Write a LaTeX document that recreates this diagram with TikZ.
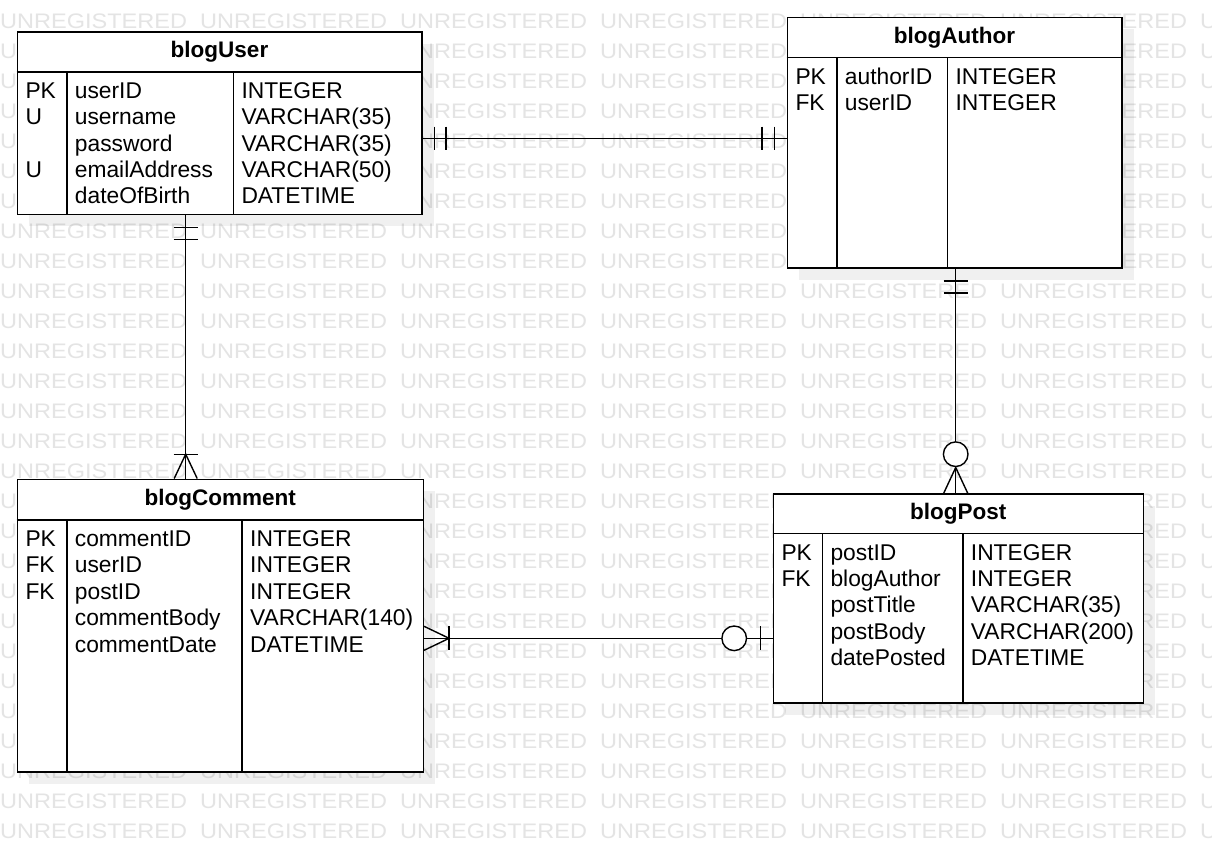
\documentclass[tikz,border=0pt]{standalone}
\usepackage{fontspec}
\setmainfont{Liberation Sans}
\newfontfamily\wmfont[FakeStretch=1.12]{Liberation Sans}
\usetikzlibrary{calc}

\definecolor{wmgray}{RGB}{228,228,228}

\tikzset{
  wm/.style={anchor=base west, inner sep=0pt, text=wmgray,
    font=\wmfont\fontsize{21}{25}\selectfont},
  entity/.style={draw=black, line width=1.6pt, fill=white, inner sep=0pt},
  boxshade/.style={fill=black, fill opacity=0.06, draw=none},
  rule/.style={line width=1.6pt},
  title/.style={anchor=base, inner sep=0pt,
    font=\bfseries\fontsize{22.5}{27}\selectfont},
  cell/.style={anchor=base west, inner sep=0pt,
    font=\fontsize{22.8}{27}\selectfont},
  rel/.style={line width=1.4pt},
  ring/.style={circle, draw=black, line width=1.4pt, fill=white,
    minimum size=24.6pt, inner sep=0pt},
}

% entity box: #1 name, #2 cx, #3 cy, #4 width, #5 height,
% #6 header rule y, #7 first column x, #8 second column x, #9 title
\newcommand\erentity[9]{%
  \fill[boxshade] ({#2-#4/2+12},{#3-#5/2+12}) rectangle ({#2+#4/2+12},{#3+#5/2+12});
  \node[entity, minimum width=#4pt, minimum height=#5pt] (#1) at (#2,#3) {};
  \draw[rule] (#1.west |- 0,#6) -- (#1.east |- 0,#6);
  \draw[rule] (#7,#6) -- (#7,#6 |- #1.south);
  \draw[rule] (#8,#6) -- (#8,#6 |- #1.south);
  \node[title] (#1-title) at ({#2},{#3-#5/2+25.8}) {#9};
}

% attribute rows: #1 name, #2 left x, #3 first column x, #4 second column x,
% #5 first baseline, #6 rows key/name/type
\newcommand\errows[6]{%
  \foreach \k/\n/\t [count=\i from 0] in {#6} {
    \node[cell] (#1-k\i) at ({#2+8},{#5+26.4*\i}) {\k};
    \node[cell] (#1-n\i) at ({#3+8},{#5+26.4*\i}) {\n};
    \node[cell] (#1-t\i) at ({#4+8},{#5+26.4*\i}) {\t};
  }
}

\begin{document}
\begin{tikzpicture}[x=1pt, y=-1pt]
  \useasboundingbox (0,0) rectangle (1212,841);
  \clip (0,0) rectangle (1212,841);
  \fill[white] (0,0) rectangle (1212,841);

  % tiled background text
  \foreach \r in {0,...,27} {
    \foreach \c in {0,...,6} {
      \node[wm] (wm-\r-\c) at ({200*\c},{28.3+30*\r}) {UNREGISTERED};
    }
  }

  % entities
  \erentity{user}{219.5}{123}{404.4}{182.6}{71.7}{66.7}{233.3}{blogUser}
  \errows{user}{17.3}{66.7}{233.3}{98.3}{PK/userID/INTEGER, U/username/VARCHAR(35), /password/VARCHAR(35), U/emailAddress/VARCHAR(50), /dateOfBirth/DATETIME}

  \erentity{author}{954.5}{142.5}{334.4}{250.4}{57.3}{836.7}{947.3}{blogAuthor}
  \errows{author}{787.3}{836.7}{947.3}{84}{PK/authorID/INTEGER, FK/userID/INTEGER}

  \erentity{comment}{220.3}{625.5}{406}{292.4}{520}{66.7}{242}{blogComment}
  \errows{comment}{17.3}{66.7}{242}{546.4}{PK/commentID/INTEGER, FK/userID/INTEGER, FK/postID/INTEGER, /commentBody/VARCHAR(140), /commentDate/DATETIME}

  \erentity{post}{958.3}{598.35}{370}{208.7}{533.3}{822.3}{962.7}{blogPost}
  \errows{post}{773.3}{822.3}{962.7}{560}{PK/postID/INTEGER, FK/blogAuthor/INTEGER, /postTitle/VARCHAR(35), /postBody/VARCHAR(200), /datePosted/DATETIME}

  % blogUser -- blogAuthor : one and only one on both ends
  \coordinate (ua1) at ([yshift=-15.3pt]user.east);
  \coordinate (ua2) at (author.west |- ua1);
  \draw[rel] (ua1) -- (ua2);
  \draw[rel] ($(ua1)+(11.8,-11.7)$) -- ++(0,23.4);
  \draw[rel] ($(ua1)+(23.6,-11.7)$) -- ++(0,23.4);
  \draw[rel] ($(ua2)+(-12.2,-11.7)$) -- ++(0,23.4);
  \draw[rel] ($(ua2)+(-24.4,-11.7)$) -- ++(0,23.4);

  % blogUser -- blogComment : one to one-or-many
  \coordinate (uc1) at ([xshift=-33.8pt]user.south);
  \coordinate (uc2) at (comment.north -| uc1);
  \draw[rel] (uc1) -- (uc2);
  \draw[rel] ($(uc1)+(-12,12.5)$) -- ++(24,0);
  \draw[rel] ($(uc1)+(-12,24.5)$) -- ++(24,0);
  \draw[rel] ($(uc2)+(-12,-24.3)$) -- ++(24,0);
  \draw[rel] ($(uc2)+(-11.5,0)$) -- ($(uc2)+(0,-24.3)$) -- ($(uc2)+(11.5,0)$);

  % blogAuthor -- blogPost : one to zero-or-many
  \coordinate (ap1) at ([xshift=1.2pt]author.south);
  \coordinate (ap2) at (post.north -| ap1);
  \draw[rel] (ap1) -- (ap2);
  \draw[rel] ($(ap1)+(-12,12.3)$) -- ++(24,0);
  \draw[rel] ($(ap1)+(-12,24.6)$) -- ++(24,0);
  \draw[rel] ($(ap2)+(-12,0)$) -- ($(ap2)+(0,-25.7)$) -- ($(ap2)+(12,0)$);
  \node[ring] (ap-ring) at ($(ap2)+(0,-39)$) {};

  % blogComment -- blogPost : one-or-many to zero-or-one
  \coordinate (cp1) at ([yshift=-12.8pt]comment.east);
  \coordinate (cp2) at (post.west |- cp1);
  \draw[rel] (cp1) -- (cp2);
  \draw[rel] ($(cp1)+(0,-12)$) -- ($(cp1)+(25,0)$) -- ($(cp1)+(0,12)$);
  \draw[rel] ($(cp1)+(25,-12)$) -- ++(0,24);
  \draw[rel] ($(cp2)+(-12.3,-12)$) -- ++(0,24);
  \node[ring] (cp-ring) at ($(cp2)+(-38.3,0)$) {};
\end{tikzpicture}
\end{document}
